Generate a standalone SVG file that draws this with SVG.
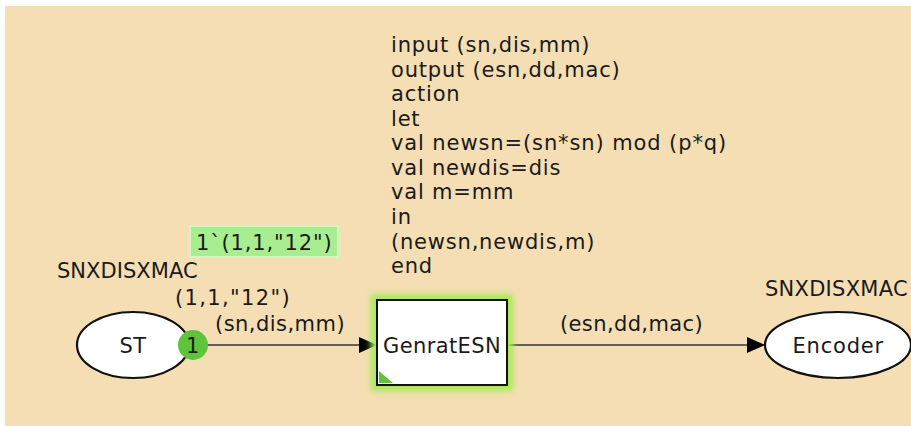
<svg xmlns="http://www.w3.org/2000/svg" width="911" height="426" viewBox="0 0 911 426">
<style>
text{font-family:"DejaVu Sans","Verdana",sans-serif;fill:#1a1a1a}
.code{font-size:21px;letter-spacing:0.8px}
.lbl{font-size:21px;letter-spacing:0.4px}
.place{fill:#fff;stroke:#111;stroke-width:2.2}
.arc{stroke:#333;stroke-width:1.6;fill:none}
</style>
<defs>
<marker id="ah" markerWidth="18" markerHeight="16" refX="17" refY="8" orient="auto" markerUnits="userSpaceOnUse">
<path d="M0,0 L18,8 L0,16 Z" fill="#000"/>
</marker>
<filter id="glow" x="-20%" y="-20%" width="140%" height="140%">
<feGaussianBlur stdDeviation="3"/>
</filter>
</defs>
<rect x="5" y="6" width="906" height="420" fill="#f5deb3"/>
<g id="connectors">
<line class="arc" x1="207" y1="345" x2="376" y2="345" marker-end="url(#ah)"/>
<line class="arc" x1="507" y1="345" x2="764" y2="345" marker-end="url(#ah)"/>
</g>
<g id="code">
<text class="code" x="391" y="52">input (sn,dis,mm)</text>
<text class="code" x="391" y="77">output (esn,dd,mac)</text>
<text class="code" x="391" y="101">action</text>
<text class="code" x="391" y="126">let</text>
<text class="code" x="391" y="150" textLength="336">val newsn=(sn*sn) mod (p*q)</text>
<text class="code" x="391" y="175">val newdis=dis</text>
<text class="code" x="391" y="199">val m=mm</text>
<text class="code" x="391" y="224">in</text>
<text class="code" x="391" y="249">(newsn,newdis,m)</text>
<text class="code" x="391" y="273">end</text>
</g>
<g id="ST">
<ellipse class="place" cx="133" cy="345" rx="56" ry="33"/>
<text class="lbl" x="133" y="353" text-anchor="middle">ST</text>
<text class="lbl" x="57" y="278" textLength="141">SNXDISXMAC</text>
<circle cx="193" cy="345" r="15" fill="#5fc33b"/>
<text class="lbl" x="193" y="353" text-anchor="middle">1</text>
<text class="lbl" x="175" y="305" textLength="115">(1,1,"12")</text>
<rect x="190" y="226" width="148" height="31" fill="#a8ee90" stroke="#d4f7c2" stroke-width="2"/>
<text class="lbl" x="196" y="250" textLength="136">1`(1,1,"12")</text>
</g>
<g id="GenratESN">
<rect x="371" y="294" width="142" height="97" fill="#a6ea5a" filter="url(#glow)"/>
<rect x="377" y="300" width="130" height="85" fill="#fff" stroke="#111" stroke-width="2"/>
<path d="M379,383 L379,371 L393,383 Z" fill="#5fc33b"/>
<text class="lbl" x="442" y="353" text-anchor="middle" textLength="118">GenratESN</text>
</g>
<g id="Encoder">
<ellipse class="place" cx="838" cy="345" rx="73" ry="33"/>
<text class="lbl" x="838" y="353" text-anchor="middle" textLength="91">Encoder</text>
<text class="lbl" x="765" y="296" textLength="143">SNXDISXMAC</text>
</g>
<text class="lbl" x="215" y="331" textLength="130">(sn,dis,mm)</text>
<text class="lbl" x="560" y="331" textLength="143">(esn,dd,mac)</text>
</svg>
